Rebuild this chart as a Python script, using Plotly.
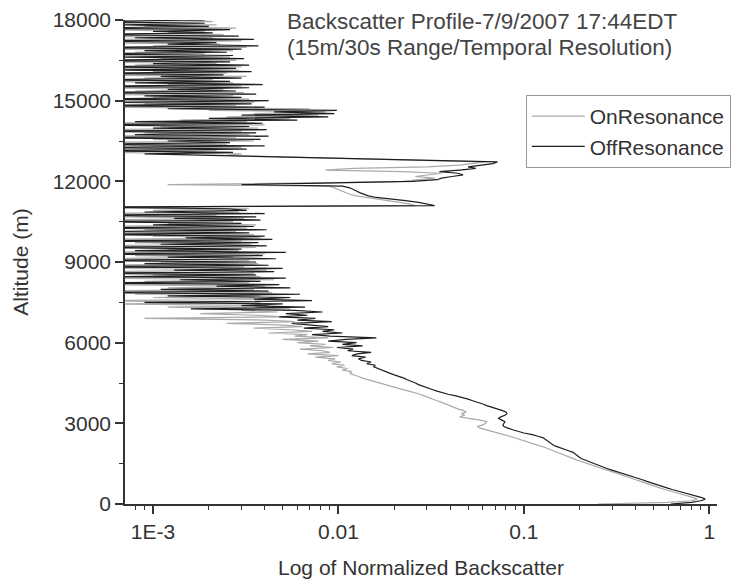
import plotly.graph_objects as go

# Altitude bins (m), 60 m spacing from 0 to 18000
altitude_m = list(range(0, 18001, 60))

# OffResonance normalized backscatter (one row = 600 m)
off_resonance = [
    0.62, 0.80, 0.90, 0.95, 0.91, 0.84, 0.78, 0.72, 0.67, 0.63,
    0.59, 0.55, 0.515, 0.485, 0.46, 0.435, 0.41, 0.385, 0.365, 0.345,
    0.322, 0.298, 0.28, 0.265, 0.252, 0.238, 0.225, 0.213, 0.205, 0.199,
    0.194, 0.189, 0.184, 0.174, 0.163, 0.154, 0.147, 0.142, 0.138, 0.134,
    0.130, 0.127, 0.119, 0.111, 0.100, 0.092, 0.087, 0.082, 0.078, 0.077,
    0.078, 0.079, 0.076, 0.073, 0.075, 0.079, 0.081, 0.080, 0.076, 0.071,
    0.067, 0.063, 0.060, 0.057, 0.053, 0.050, 0.047, 0.043, 0.039, 0.036,
    0.034, 0.032, 0.030, 0.028, 0.027, 0.026, 0.0245, 0.0235, 0.0225, 0.021,
    0.020, 0.019, 0.018, 0.0172, 0.016, 0.0155, 0.0158, 0.0142, 0.0150, 0.0133,
    0.0128, 0.0140, 0.0118, 0.0126, 0.0150, 0.0112, 0.0120, 0.0098, 0.0135, 0.0105,
    0.0125, 0.0088, 0.0110, 0.0160, 0.0090, 0.0072, 0.0105, 0.0082, 0.0095, 0.0065,
    0.0088, 0.0070, 0.0056, 0.0092, 0.0060, 0.0075, 0.0048, 0.0068, 0.0052, 0.0082,
    0.0058, 0.0016, 0.0066, 0.0030, 0.0050, 0.0009, 0.0072, 0.0035, 0.0055, 0.0012,
    0.0062, 0.0004, 0.0042, 0.0011, 0.0055, 0.0022, 0.0048, 0.0004, 0.0038, 0.0014,
    0.0052, 0.0007, 0.0036, 0.0004, 0.0045, 0.0013, 0.0050, 0.0004, 0.0042, 0.0009,
    0.0036, 0.0004, 0.0046, 0.0012, 0.0039, 0.0004, 0.0052, 0.0008, 0.0030, 0.0004,
    0.0041, 0.0011, 0.0037, 0.0004, 0.0044, 0.0015, 0.0040, 0.0004, 0.0033, 0.0007,
    0.0041, 0.0004, 0.0035, 0.0010, 0.0030, 0.0004, 0.0038, 0.0013, 0.0036, 0.0004,
    0.0040, 0.0009, 0.0032, 0.0025, 0.0004, 0.033, 0.030, 0.027, 0.023, 0.019,
    0.016, 0.0145, 0.0135, 0.013, 0.0125, 0.012, 0.0115, 0.0105, 0.0030, 0.0095,
    0.025, 0.034, 0.036, 0.041, 0.047, 0.044, 0.035, 0.045, 0.055, 0.050,
    0.058, 0.068, 0.072, 0.030, 0.0127, 0.0053, 0.0029, 0.0009, 0.0027, 0.0004,
    0.0032, 0.0006, 0.0040, 0.0004, 0.0026, 0.0012, 0.0038, 0.0004, 0.0042, 0.0008,
    0.0036, 0.0004, 0.0041, 0.0010, 0.0033, 0.0004, 0.0039, 0.0008, 0.0060, 0.0020,
    0.0088, 0.0030, 0.0095, 0.0045, 0.0098, 0.0012, 0.0040, 0.0004, 0.0034, 0.0007,
    0.0042, 0.0004, 0.0030, 0.0009, 0.0036, 0.0004, 0.0028, 0.0012, 0.0033, 0.0004,
    0.0039, 0.0008, 0.0026, 0.0004, 0.0030, 0.0011, 0.0024, 0.0004, 0.0034, 0.0006,
    0.0028, 0.0004, 0.0033, 0.0010, 0.0026, 0.0004, 0.0031, 0.0007, 0.0027, 0.0004,
    0.0025, 0.0009, 0.0030, 0.0004, 0.0037, 0.0012, 0.0022, 0.0004, 0.0035, 0.0008,
    0.0029, 0.0004, 0.0021, 0.0010, 0.0026, 0.0004, 0.0020, 0.0007, 0.0019, 0.0004,
    0.0019,
]

# OnResonance normalized backscatter (one row = 600 m)
on_resonance = [
    0.25, 0.60, 0.80, 0.86, 0.82, 0.76, 0.70, 0.65, 0.61, 0.575,
    0.54, 0.505, 0.475, 0.45, 0.425, 0.40, 0.378, 0.357, 0.338, 0.32,
    0.30, 0.282, 0.262, 0.246, 0.232, 0.219, 0.207, 0.196, 0.186, 0.177,
    0.169, 0.161, 0.154, 0.146, 0.138, 0.130, 0.122, 0.115, 0.108, 0.102,
    0.096, 0.090, 0.084, 0.078, 0.072, 0.066, 0.061, 0.058, 0.056, 0.060,
    0.062, 0.063, 0.058, 0.050, 0.045, 0.048, 0.046, 0.049, 0.047, 0.044,
    0.042, 0.040, 0.038, 0.036, 0.034, 0.032, 0.030, 0.029, 0.0275, 0.026,
    0.024, 0.022, 0.0205, 0.019, 0.0175, 0.0165, 0.0155, 0.0145, 0.0135, 0.0128,
    0.0122, 0.0115, 0.0118, 0.0105, 0.0112, 0.0098, 0.0108, 0.0092, 0.0103, 0.0088,
    0.0096, 0.0075, 0.0100, 0.0068, 0.0090, 0.0082, 0.0062, 0.0094, 0.0070, 0.0085,
    0.0060, 0.0078, 0.0050, 0.0088, 0.0058, 0.0068, 0.0042, 0.0072, 0.0055, 0.0035,
    0.0064, 0.0048, 0.0025, 0.0058, 0.0040, 0.0009, 0.0052, 0.0036, 0.0018, 0.0047,
    0.0030, 0.0055, 0.0012, 0.0042, 0.0006, 0.0038, 0.0004, 0.0048, 0.0010, 0.0038,
    0.0008, 0.0044, 0.0004, 0.0035, 0.0012, 0.0040, 0.0004, 0.0033, 0.0009, 0.0045,
    0.0004, 0.0038, 0.0010, 0.0035, 0.0004, 0.0041, 0.0007, 0.0031, 0.0004, 0.0037,
    0.0011, 0.0033, 0.0004, 0.0027, 0.0008, 0.0040, 0.0004, 0.0029, 0.0012, 0.0036,
    0.0004, 0.0034, 0.0008, 0.0030, 0.0004, 0.0038, 0.0010, 0.0035, 0.0004, 0.0028,
    0.0009, 0.0032, 0.0004, 0.0036, 0.0012, 0.0027, 0.0004, 0.0031, 0.0007, 0.0022,
    0.0004, 0.0029, 0.0010, 0.0033, 0.0004, 0.026, 0.024, 0.021, 0.018, 0.016,
    0.0135, 0.0125, 0.0115, 0.011, 0.0105, 0.010, 0.0095, 0.009, 0.0012, 0.008,
    0.022, 0.028, 0.033, 0.026, 0.030, 0.036, 0.022, 0.0085, 0.012, 0.030,
    0.045, 0.055, 0.062, 0.028, 0.011, 0.0045, 0.0025, 0.0030, 0.0004, 0.0022,
    0.0004, 0.0030, 0.0007, 0.0025, 0.0004, 0.0035, 0.0010, 0.0028, 0.0004, 0.0033,
    0.0009, 0.0030, 0.0004, 0.0037, 0.0011, 0.0040, 0.0004, 0.0032, 0.0014, 0.0055,
    0.0025, 0.0078, 0.0035, 0.0085, 0.0020, 0.0070, 0.0004, 0.0028, 0.0009, 0.0035,
    0.0004, 0.0033, 0.0010, 0.0027, 0.0004, 0.0031, 0.0008, 0.0024, 0.0004, 0.0030,
    0.0012, 0.0027, 0.0004, 0.0021, 0.0009, 0.0032, 0.0004, 0.0025, 0.0010, 0.0029,
    0.0004, 0.0030, 0.0008, 0.0022, 0.0004, 0.0028, 0.0011, 0.0026, 0.0004, 0.0019,
    0.0008, 0.0027, 0.0004, 0.0032, 0.0010, 0.0023, 0.0004, 0.0030, 0.0007, 0.0021,
    0.0004, 0.0024, 0.0012, 0.0019, 0.0004, 0.0028, 0.0009, 0.0022, 0.0004, 0.0021,
    0.0015,
]

x_tick_vals = [0.001, 0.01, 0.1, 1]
x_tick_text = ["1E-3", "0.01", "0.1", "1"]
x_minor_vals = [0.0008, 0.0009] + [m * d for d in (0.001, 0.01, 0.1) for m in range(2, 10)]
y_tick_vals = [0, 3000, 6000, 9000, 12000, 15000, 18000]
y_tick_text = ["0", "3000", "6000", "9000", "12000", "15000", "18000"]
y_minor_vals = [1500, 4500, 7500, 10500, 13500, 16500]

title_line1 = "Backscatter Profile-7/9/2007 17:44EDT"
title_line2 = "(15m/30s Range/Temporal Resolution)"

FONT = "Liberation Sans, Arial, sans-serif"

fig = go.Figure()
fig.add_trace(go.Scatter(
    x=on_resonance, y=altitude_m, mode="lines", name="OnResonance",
    line=dict(color="#aaaaaa", width=1.2),
))
fig.add_trace(go.Scatter(
    x=off_resonance, y=altitude_m, mode="lines", name="OffResonance",
    line=dict(color="#1e1e1e", width=1.2),
))

fig.update_layout(
    template="none",
    width=740, height=584,
    margin=dict(l=117, r=31, t=12, b=88, pad=0),
    paper_bgcolor="white", plot_bgcolor="white",
    font=dict(family=FONT, size=21, color="#333"),
    showlegend=True,
    legend=dict(
        x=0.677, y=0.845, xanchor="left", yanchor="top",
        bordercolor="#999", borderwidth=1, bgcolor="white",
        font=dict(size=21, color="#333"), tracegroupgap=0, itemwidth=53,
    ),
    annotations=[
        dict(xref="paper", yref="paper", x=0.27, y=0.9959, xanchor="left", yanchor="middle",
             text=title_line1, showarrow=False, align="left",
             font=dict(size=22.5, color="#444")),
        dict(xref="paper", yref="paper", x=0.27, y=0.9442, xanchor="left", yanchor="middle",
             text=title_line2, showarrow=False, align="left",
             font=dict(size=22.5, color="#444")),
    ],
)

fig.update_xaxes(
    type="log", range=[-3.151, 0.041], automargin=False,
    tickmode="array", tickvals=x_tick_vals, ticktext=x_tick_text,
    ticks="outside", ticklen=8, tickwidth=1.5, tickcolor="#333",
    minor=dict(tickmode="array", tickvals=x_minor_vals, ticks="outside", ticklen=4,
               tickwidth=1.2, tickcolor="#333", showgrid=False),
    showline=True, linecolor="#333", linewidth=1.5, showgrid=False, zeroline=False,
    tickfont=dict(size=21, color="#333"),
    title=dict(text="Log of Normalized Backscatter", standoff=18, font=dict(size=21, color="#333")),
)
fig.update_yaxes(
    range=[0, 18000], automargin=False,
    tickmode="array", tickvals=y_tick_vals, ticktext=y_tick_text,
    ticks="outside", ticklen=8, tickwidth=1.5, tickcolor="#333",
    minor=dict(tickmode="array", tickvals=y_minor_vals, ticks="outside", ticklen=4,
               tickwidth=1.2, tickcolor="#333", showgrid=False),
    showline=True, linecolor="#333", linewidth=1.5, showgrid=False, zeroline=False,
    tickfont=dict(size=21, color="#333"),
    title=dict(text="Altitude (m)", standoff=18, font=dict(size=21, color="#333")),
)

fig.write_html("out.html")
